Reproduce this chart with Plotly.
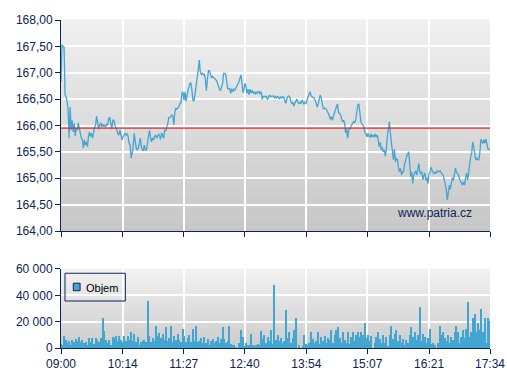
import pandas as pd
import plotly.graph_objects as go

# ---------------- data ----------------
DAY = "2024-01-01"
SESSION_START = "09:00"
SESSION_END = "17:34"
PREV_CLOSE = 165.95

price = [
    166.83, 167.53, 167.50, 167.49, 166.58, 166.55, 166.45, 166.30, 165.76, 166.35,
    165.91, 166.10, 165.88, 166.04, 165.80, 165.95, 165.91, 166.05, 165.95, 165.84,
    165.76, 165.73, 165.57, 165.73, 165.63, 165.69, 165.60, 165.79, 165.88, 165.79,
    165.85, 165.76, 165.88, 165.97, 166.00, 166.18, 166.07, 165.93, 166.01, 166.05,
    165.97, 166.03, 165.98, 166.01, 165.97, 166.03, 166.01, 166.14, 166.15, 166.05,
    165.93, 166.10, 166.10, 166.01, 165.93, 165.91, 165.84, 165.82, 165.91, 165.80,
    165.73, 165.78, 165.82, 165.85, 165.82, 165.85, 165.80, 165.66, 165.63, 165.38,
    165.47, 165.60, 165.85, 165.66, 165.57, 165.54, 165.57, 165.66, 165.76, 165.60,
    165.54, 165.53, 165.63, 165.53, 165.54, 165.65, 165.76, 165.91, 165.79, 165.69,
    165.76, 165.73, 165.79, 165.82, 165.76, 165.79, 165.84, 165.80, 165.74, 165.86,
    165.78, 165.76, 165.91, 165.90, 165.97, 166.03, 166.15, 166.15,
    166.17, 166.20, 166.18, 166.01, 166.26, 166.33, 166.31, 166.34, 166.36, 166.42,
    166.43, 166.61, 166.64, 166.48, 166.64, 166.46, 166.62, 166.67, 166.74, 166.81,
    166.79, 166.61, 166.46, 166.48, 166.61, 166.80, 166.88, 167.05, 167.24, 167.02,
    166.97, 166.99, 166.96, 166.97, 166.88, 166.66, 166.86, 167.04, 167.04, 166.99,
    166.91, 166.93, 166.91, 166.89, 166.89, 166.85, 166.80, 166.72, 166.69, 166.66,
    166.72, 166.80, 166.99, 166.99, 166.97, 166.83, 166.70, 166.69, 166.70, 166.61,
    166.70, 166.64, 166.69, 166.67, 166.72, 166.74, 166.79, 166.83, 166.89, 166.96,
    166.80, 166.62, 166.70, 166.80, 166.74, 166.61, 166.69, 166.58, 166.69, 166.62,
    166.67, 166.61, 166.64, 166.59, 166.64, 166.61, 166.64, 166.64, 166.59, 166.64,
    166.49, 166.55, 166.55, 166.55, 166.55, 166.49, 166.55, 166.58, 166.55,
    166.55, 166.55, 166.56, 166.52, 166.55, 166.52, 166.55, 166.54, 166.50, 166.55,
    166.52, 166.54, 166.54, 166.49, 166.42, 166.48, 166.55, 166.56, 166.55, 166.46,
    166.42, 166.44, 166.37, 166.42, 166.48, 166.50, 166.44, 166.42, 166.44, 166.41,
    166.48, 166.44, 166.41, 166.44, 166.42, 166.48, 166.56, 166.60, 166.64, 166.56,
    166.55, 166.54, 166.52, 166.48, 166.41, 166.35, 166.41, 166.48, 166.58, 166.52,
    166.39, 166.31, 166.33, 166.31, 166.31, 166.26, 166.23, 166.17, 166.12, 166.17,
    166.10, 166.17, 166.26, 166.30, 166.36, 166.41, 166.24, 166.23, 166.20, 166.12,
    166.07, 166.10, 166.04, 165.86, 165.93, 165.76, 165.91, 165.93, 165.98, 166.01,
    166.05, 166.07, 166.05, 166.12, 166.26, 166.39, 166.41, 166.23, 166.07, 166.03,
    166.01, 165.98, 165.86, 165.84, 165.78, 165.85, 165.80, 165.78, 165.84, 165.78,
    165.82, 165.78, 165.84, 165.78, 165.82,
    165.74, 165.60, 165.68, 165.54, 165.59, 165.50, 165.54, 165.42, 165.54, 165.79,
    165.98, 166.07, 165.85, 165.71, 165.54, 165.35, 165.55, 165.31, 165.37, 165.35,
    165.19, 165.12, 165.19, 165.06, 165.12, 165.12, 165.27, 165.38, 165.41, 165.46,
    165.50, 165.28, 165.03, 165.12, 164.90, 165.06, 165.12, 165.14, 165.06, 165.15,
    165.28, 165.12, 165.09, 165.12, 164.97, 165.06, 165.10, 164.96, 165.01, 164.90,
    165.08, 165.12, 165.21, 165.15, 165.10, 165.08, 165.12, 165.09, 165.14, 165.14,
    165.12, 165.14, 165.10, 165.08, 165.06, 164.97, 164.89, 164.78, 164.59, 164.71,
    164.87, 164.79, 164.90, 165.01, 164.96, 165.09, 165.19, 165.12, 165.10, 165.06,
    164.99, 164.95, 164.90, 164.87, 164.93, 164.87, 165.01, 165.10, 164.97, 165.15,
    165.29, 165.41, 165.48, 165.69, 165.60, 165.44, 165.35, 165.39, 165.35, 165.35,
    165.48, 165.74, 165.69, 165.66, 165.73, 165.66, 165.74, 165.66, 165.55, 165.55,
    165.55,
]

# volume in 2-minute bins, 09:00 .. 17:34
volume = [
    3000, 2000, 8800, 6300, 3800, 5500, 2500, 6000, 4500, 7000,
    5000, 8000, 4500, 6300, 3800, 4500, 2500, 7500, 4500, 7500,
    3000, 7500, 6300, 4500, 7500, 23000, 13000, 6300, 3800, 6300,
    2500, 8000, 7500, 9500, 5500, 8800, 6300, 4500, 8800, 5500,
    9500, 6300, 12500, 5500, 10500, 4500, 8000, 2000, 4500, 5500,
    6300, 4500, 36000, 8800, 4500, 7500, 5500, 16500, 8800, 11300,
    7500, 10500, 6300, 15600, 5500, 7500, 17100, 4500, 8800, 6300,
    10500, 6300, 4500, 14600, 8800, 4500, 7500, 10000, 4500, 14600,
    5500, 17100, 4500, 5500,
    7700, 4100, 8400, 4100, 6700, 2600, 5100, 7200, 4100, 5100,
    8400, 4100, 7200, 16100, 7200, 4100, 5100, 16900, 3300, 2000,
    2600, 800, 0, 4100, 13600, 8400, 1500, 4100, 2600, 2000,
    11000, 2000, 1500, 2600, 3300, 2000, 12800, 6700, 10200, 4100,
    8400, 5100, 13600, 3300, 47600, 5900, 9700, 5100, 7700, 4100,
    5100, 28900, 7700, 12300, 4100, 7700, 13600, 22500, 0, 2000,
    0, 1500, 10200, 3300, 2000, 4100, 11800, 7200, 4100, 5100,
    11800, 3300, 8400, 5100, 9200, 4100, 7700, 5900, 13600, 4100,
    9700, 13600, 16100, 7700, 4100, 11800, 5900, 4100, 11800, 3300,
    8400, 11800, 5100, 10200, 11800, 8400, 11800, 10200, 18700, 7700,
    9700, 5100, 9200, 0, 4100, 8400, 12300, 6700, 4100, 9700,
    4100, 8400, 1500, 10200, 16900, 6700, 11000, 13600, 5100, 9700,
    4100, 7200, 2600, 5900, 4100, 10200, 16100, 8400, 11800, 5900,
    9700, 31500, 5100, 11000, 8400, 4100, 7700, 14300, 3300, 4100,
    2000, 0, 4100, 16900, 10200, 11800, 7700, 5100, 10200, 4100,
    8400, 5900, 12300, 16900, 11800, 4100, 8400, 13600, 7700, 14800,
    35300, 8400, 11800, 22500, 25600, 11800, 18700, 13600, 29700, 12300,
    22500, 4100, 22500, 20500,
]

x_ticks = ["09:00", "10:14", "11:27", "12:40", "13:54", "15:07", "16:21", "17:34"]
price_ticks = [164.0, 164.5, 165.0, 165.5, 166.0, 166.5, 167.0, 167.5, 168.0]
volume_ticks = [0, 20000, 40000, 60000]
LEGEND_NAME = "Objem"
WATERMARK = "www.patria.cz"

# ---------------- figure ----------------
start = pd.Timestamp(f"{DAY} {SESSION_START}")
end = pd.Timestamp(f"{DAY} {SESSION_END}")
price_time = pd.date_range(start, end, periods=len(price))
vol_time = pd.date_range(start, periods=len(volume), freq="2min")
tickvals = [pd.Timestamp(f"{DAY} {t}") for t in x_ticks]

NAVY = "#0d2456"
BLUE = "#42a5d2"
FONT = "Liberation Sans, Arial, sans-serif"

fig = go.Figure()
fig.add_trace(go.Scatter(x=price_time, y=price, mode="lines",
                         line=dict(color=BLUE, width=1.3), showlegend=False,
                         xaxis="x", yaxis="y"))
fig.add_trace(go.Bar(x=vol_time, y=volume, name=LEGEND_NAME,
                     marker=dict(color=BLUE, line=dict(width=0)),
                     width=105000, showlegend=False, xaxis="x2", yaxis="y2"))

shapes = []
# gradient backgrounds
def gradient(xref, yref, top, bottom, n=48):
    out = []
    for i in range(n):
        f = i / (n - 1)
        c = tuple(round(top[k] + (bottom[k] - top[k]) * f) for k in range(3))
        out.append(dict(type="rect", xref=xref, yref=yref, x0=0, x1=1,
                        y0=1 - (i + 1) / n, y1=1 - i / n + 0.002,
                        fillcolor=f"rgb{c}", line=dict(width=0), layer="below"))
    return out

shapes += gradient("x domain", "y domain", (240, 240, 240), (199, 199, 199))
shapes += gradient("x2 domain", "y2 domain", (242, 242, 242), (203, 203, 203))
shapes.append(dict(type="line", xref="x domain", yref="y", x0=0, x1=1,
                   y0=PREV_CLOSE, y1=PREV_CLOSE, line=dict(color="#e3292b", width=1.1),
                   layer="above"))

# legend box for the volume series (drawn by hand to match the compact look)
shapes.append(dict(type="rect", xref="x2 domain", yref="y2 domain",
                   x0=0.0093, x1=0.150, y0=0.595, y1=0.946,
                   line=dict(color=NAVY, width=1), fillcolor="rgba(0,0,0,0)",
                   layer="above"))
shapes.append(dict(type="rect", xref="x2 domain", yref="y2 domain",
                   x0=0.0287, x1=0.0445, y0=0.725, y1=0.82,
                   line=dict(color=NAVY, width=1), fillcolor=BLUE, layer="above"))

axis_common = dict(showline=True, linecolor=NAVY, linewidth=1, ticks="outside",
                   tickcolor=NAVY, ticklen=5, tickwidth=1, showgrid=True,
                   gridcolor="white", gridwidth=2, zeroline=False, automargin=False,
                   tickfont=dict(family=FONT, size=12, color=NAVY))

fig.update_layout(
    width=507, height=380,
    margin=dict(l=61, r=17, t=20, b=32),
    paper_bgcolor="white", plot_bgcolor="#dddddd",
    separators=", ",
    font=dict(family=FONT, color=NAVY),
    shapes=shapes,
    xaxis=dict(axis_common, domain=[0, 1], anchor="y", type="date",
               range=[start, end], tickvals=tickvals, ticktext=x_ticks,
               showticklabels=False),
    yaxis=dict(axis_common, domain=[0.3567, 1], anchor="x",
               range=[164, 168], tickvals=price_ticks, tickformat=".2f"),
    xaxis2=dict(axis_common, domain=[0, 1], anchor="y2", type="date",
                range=[start, end], tickvals=tickvals, ticktext=x_ticks),
    yaxis2=dict(axis_common, domain=[0, 0.2409], anchor="x2",
                range=[0, 60000], tickvals=volume_ticks, tickformat=",d"),
    showlegend=False,
    annotations=[
        dict(text=WATERMARK, xref="paper", yref="paper", x=0.963, y=0.4116,
             xanchor="right", yanchor="middle", showarrow=False,
             font=dict(family=FONT, size=12, color=NAVY)),
        dict(text=LEGEND_NAME, xref="x2 domain", yref="y2 domain", x=0.054, y=0.765,
             xanchor="left", yanchor="middle", showarrow=False,
             font=dict(family=FONT, size=11, color="#000000")),
    ],
    bargap=0,
)

fig.write_html("out.html")
